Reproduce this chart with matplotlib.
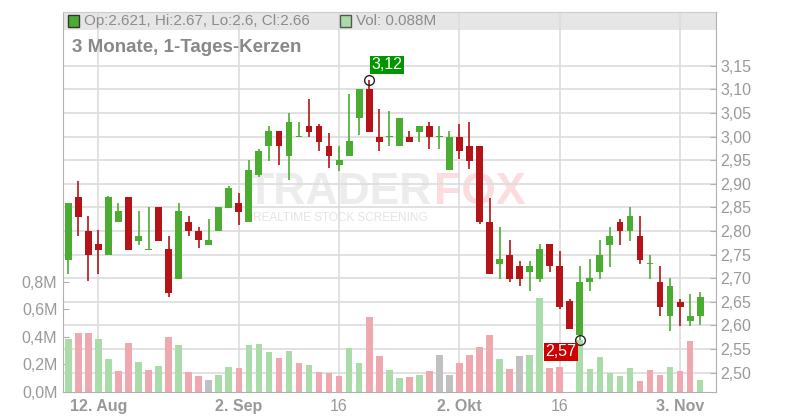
import matplotlib
matplotlib.use("Agg")
import matplotlib.pyplot as plt
import matplotlib.transforms as mtransforms
from matplotlib.patches import Rectangle
from matplotlib.ticker import FuncFormatter

plt.rcParams['font.family'] = ['Liberation Sans', 'DejaVu Sans']

# daily candles (price in EUR, volume in millions)
opens = [2.738, 2.871, 2.800, 2.772, 2.749, 2.819, 2.871, 2.778, 2.760, 2.850,
         2.761, 2.699, 2.820, 2.800, 2.770, 2.800, 2.848, 2.860, 2.819, 2.918,
         2.979, 3.011, 2.958, 3.000, 3.022, 3.022, 2.981, 2.939, 2.958, 3.039,
         3.100, 3.000, 3.000, 2.979, 3.000, 3.010, 3.022, 3.000, 2.929, 3.000,
         2.981, 2.981, 2.820, 2.730, 2.750, 2.725, 2.713, 2.699, 2.772, 2.725,
         2.651, 2.580, 2.691, 2.713, 2.770, 2.820, 2.799, 2.790, 2.731, 2.693,
         2.620, 2.650, 2.609, 2.621]
highs = [2.860, 2.905, 2.831, 2.803, 2.875, 2.860, 2.871, 2.842, 2.850, 2.850,
         2.790, 2.860, 2.831, 2.809, 2.826, 2.850, 2.896, 2.880, 2.950, 2.974,
         3.022, 3.011, 3.050, 3.030, 3.080, 3.026, 3.007, 2.981, 3.090, 3.100,
         3.120, 3.059, 3.055, 3.040, 3.011, 3.022, 3.030, 3.022, 3.011, 3.026,
         3.030, 2.981, 2.869, 2.809, 2.780, 2.736, 2.736, 2.772, 2.772, 2.757,
         2.657, 2.725, 2.740, 2.780, 2.809, 2.826, 2.850, 2.831, 2.750, 2.725,
         2.701, 2.655, 2.666, 2.670]
lows = [2.709, 2.789, 2.695, 2.709, 2.749, 2.819, 2.759, 2.770, 2.760, 2.778,
        2.660, 2.699, 2.789, 2.764, 2.770, 2.800, 2.848, 2.813, 2.819, 2.914,
        2.949, 2.939, 2.909, 3.000, 3.000, 2.969, 2.933, 2.928, 2.958, 3.004,
        3.010, 2.969, 2.980, 2.979, 2.988, 2.988, 2.974, 2.974, 2.929, 2.953,
        2.932, 2.815, 2.708, 2.699, 2.691, 2.683, 2.674, 2.691, 2.713, 2.635,
        2.593, 2.570, 2.674, 2.699, 2.724, 2.770, 2.778, 2.730, 2.699, 2.620,
        2.589, 2.599, 2.599, 2.600]
closes = [2.860, 2.829, 2.749, 2.759, 2.871, 2.842, 2.759, 2.790, 2.760, 2.778,
          2.669, 2.842, 2.799, 2.780, 2.780, 2.850, 2.890, 2.840, 2.930, 2.970,
          3.011, 2.979, 3.030, 3.000, 3.010, 2.988, 2.958, 2.950, 2.990, 3.100,
          3.010, 2.988, 3.000, 3.040, 2.988, 3.022, 3.000, 3.000, 3.000, 2.969,
          2.949, 2.819, 2.708, 2.740, 2.699, 2.699, 2.725, 2.761, 2.725, 2.639,
          2.593, 2.693, 2.701, 2.750, 2.790, 2.799, 2.831, 2.738, 2.731, 2.639,
          2.683, 2.639, 2.621, 2.660]
volumes = [0.384, 0.428, 0.428, 0.384, 0.239, 0.152, 0.355, 0.217, 0.159, 0.188,
           0.399, 0.341, 0.145, 0.116, 0.087, 0.123, 0.181, 0.174, 0.341, 0.348,
           0.290, 0.246, 0.297, 0.210, 0.196, 0.145, 0.138, 0.116, 0.319, 0.210,
           0.543, 0.261, 0.159, 0.101, 0.109, 0.123, 0.152, 0.268, 0.123, 0.210,
           0.268, 0.326, 0.413, 0.239, 0.167, 0.261, 0.268, 0.681, 0.174, 0.181,
           0.000, 0.380, 0.167, 0.254, 0.138, 0.116, 0.174, 0.080, 0.159, 0.123,
           0.181, 0.152, 0.370, 0.088]

date_ticks = [3, 17, 27, 39, 49, 61]
date_labels = ["12. Aug", "2. Sep", "16", "2. Okt", "16", "3. Nov"]
date_bold = [True, True, False, True, False, True]

price_ticks = [2.50, 2.55, 2.60, 2.65, 2.70, 2.75, 2.80, 2.85, 2.90, 2.95,
               3.00, 3.05, 3.10, 3.15]
vol_ticks = [0.0, 0.2, 0.4, 0.6, 0.8]

title = "3 Monate, 1-Tages-Kerzen"
header_ohlc = "Op:2.621, Hi:2.67, Lo:2.6, Cl:2.66"
header_vol = "Vol: 0.088M"

GREEN = '#4aad32'
RED = '#b41418'
VOL_GREEN = '#aadcaa'
VOL_RED = '#f0a8b0'
VOL_GRAY = '#c0c0c0'
GRID = '#dcdcdc'
TXT = '#999999'
SPINE = '#b0b0b0'

x = list(range(len(closes)))
candle_colors = [GREEN if c >= o else RED for o, c in zip(opens, closes)]
vol_colors = []
for i, c in enumerate(closes):
    prev = closes[i - 1] if i > 0 else opens[i]
    d = round(c - prev, 4)
    vol_colors.append(VOL_GREEN if d > 0 else (VOL_RED if d < 0 else VOL_GRAY))

fig = plt.figure(figsize=(8, 4.2), dpi=100)
ax_vol = fig.add_axes([63 / 800, 28 / 420, 653 / 800, 380 / 420])
ax = ax_vol.twinx()

# header band at top of the plot
ax_vol.add_patch(Rectangle((0, 1 - 18 / 380), 1, 18 / 380, transform=ax_vol.transAxes,
                           facecolor='#e6e6e6', edgecolor='none', zorder=0.1))

# watermark
ax_vol.text(432 / 800, 1 - 193 / 420, "TRADER", transform=fig.transFigure, ha='right',
            va='center', fontsize=32, fontweight='bold', color='#ececec', zorder=0.3)
ax_vol.text(434 / 800, 1 - 193 / 420, "FOX", transform=fig.transFigure, ha='left',
            va='center', fontsize=32, fontweight='bold', color='#fcdcde', zorder=0.3)
ax_vol.text(253 / 800, 1 - 218 / 420, "REALTIME STOCK SCREENING", transform=fig.transFigure,
            ha='left', va='center', fontsize=8.5, color='#e4e4e4', zorder=0.3)

# volume bars
ax_vol.bar(x, volumes, width=0.66, color=vol_colors, linewidth=0, zorder=2)

# grid: vertical at dates, horizontal at price ticks (kept under the bars)
ax_vol.set_axisbelow(True)
ax_vol.set_xticks(date_ticks)
ax_vol.set_xticklabels(date_labels)
ax_vol.grid(axis='x', color=GRID, linewidth=1.2)
trans = mtransforms.blended_transform_factory(ax_vol.transAxes, ax.transData)
for p in price_ticks:
    ax_vol.plot([0, 1], [p, p], transform=trans, color=GRID, linewidth=1.2, zorder=0.6)

# candles
heights = [max(abs(c - o), 0.0025) for o, c in zip(opens, closes)]
bottoms = [min(o, c) - (h - abs(c - o)) / 2 for o, c, h in zip(opens, closes, heights)]
ax.vlines(x, lows, highs, colors=candle_colors, linewidth=1.2, zorder=2)
ax.bar(x, heights, bottom=bottoms, width=0.68, color=candle_colors, linewidth=0, zorder=3)

# high / low markers
hi = highs.index(max(highs))
lo = lows.index(min(lows))
ax.plot([hi, lo], [highs[hi], lows[lo]], 'o', mfc='none', mec='#222222', ms=7, mew=1, zorder=5)
ax.annotate(f"{highs[hi]:.2f}".replace('.', ','), xy=(hi, highs[hi]), xytext=(2.5, 7.5),
            textcoords='offset pixels', ha='left', va='bottom', color='white', fontsize=11.5,
            bbox=dict(boxstyle='square,pad=0.1', fc='#009600', ec='none'), zorder=6)
ax.annotate(f"{lows[lo]:.2f}".replace('.', ','), xy=(lo, lows[lo]), xytext=(-3.5, -4.5),
            textcoords='offset pixels', ha='right', va='top', color='white', fontsize=11.5,
            bbox=dict(boxstyle='square,pad=0.1', fc='#cc0000', ec='none'), zorder=6)

# axes limits / ticks
ax_vol.set_xlim(-0.53, 64.58)
ax_vol.set_ylim(0, 2.754)
ax.set_ylim(2.4591, 3.2637)

ax.set_yticks(price_ticks)
ax.yaxis.set_major_formatter(FuncFormatter(lambda v, _: f"{v:.2f}".replace('.', ',')))
ax.tick_params(axis='y', direction='in', length=4, color=SPINE, labelcolor=TXT,
               labelsize=11.5, pad=3)

ax_vol.set_yticks(vol_ticks)
ax_vol.yaxis.set_major_formatter(FuncFormatter(lambda v, _: f"{v:.1f}M".replace('.', ',')))
ax_vol.tick_params(axis='y', direction='in', length=4, color=SPINE, labelcolor=TXT,
                   labelsize=11.5, pad=4)
ax_vol.tick_params(axis='x', length=0, pad=5, labelsize=11.5, labelcolor=TXT)
for lbl, b in zip(ax_vol.get_xticklabels(), date_bold):
    lbl.set_fontweight('bold' if b else 'normal')

for s in ax.spines.values():
    s.set_visible(False)
ax.spines['right'].set_visible(True)
ax.spines['right'].set_color(SPINE)
ax_vol.spines['right'].set_visible(False)
ax_vol.spines['left'].set_color(SPINE)
ax_vol.spines['bottom'].set_color(SPINE)
ax_vol.spines['top'].set_color('#cccccc')

# header texts
fig.add_artist(Rectangle((68 / 800, 1 - 26.5 / 420), 11 / 800, 11 / 420,
                         transform=fig.transFigure, facecolor=GREEN, edgecolor='#333333', lw=1))
fig.add_artist(Rectangle((340 / 800, 1 - 26.5 / 420), 11 / 800, 11 / 420,
                         transform=fig.transFigure, facecolor=VOL_GREEN, edgecolor='#555555', lw=1))
fig.text(84 / 800, 1 - 21 / 420, header_ohlc, ha='left', va='center', fontsize=11, color='#8c8c8c')
fig.text(356 / 800, 1 - 21 / 420, header_vol, ha='left', va='center', fontsize=11, color='#8c8c8c')
fig.text(72 / 800, 1 - 47 / 420, title, ha='left', va='center', fontsize=13.5,
         fontweight='bold', color='#888888')

fig.savefig('out.png', dpi=100)
